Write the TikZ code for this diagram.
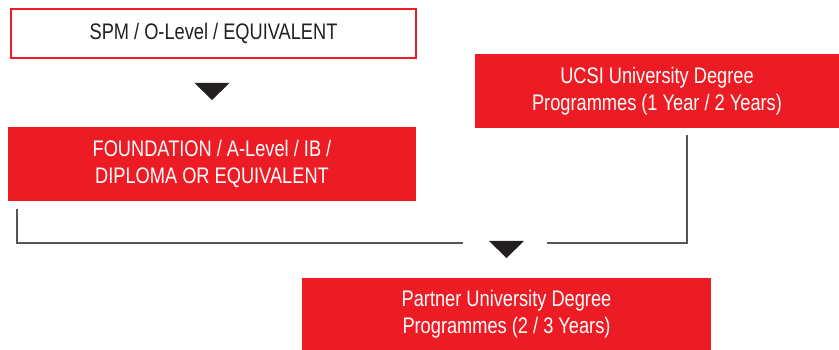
\documentclass[tikz,border=0pt]{standalone}
\usepackage{fontspec}
\setmainfont[FakeStretch=0.81]{Liberation Sans}
\usetikzlibrary{calc}
\definecolor{ucsired}{HTML}{ED1C24}
\definecolor{trait}{HTML}{555555}
\definecolor{encre}{HTML}{231F20}

\begin{document}
\begin{tikzpicture}[x=1pt,y=-1pt]
\tikzstyle{lien}=[trait,line width=1.5pt]
\tikzstyle{fleche}=[fill=encre]
\tikzset{niveau/.style={fill=ucsired,text=white,align=center,inner sep=0pt,
  font=\fontsize{22.5}{27}\selectfont,minimum height=#1},
niveau/.default={74pt}}
\useasboundingbox (0,0) rectangle (839,350);
\node[niveau=49pt,fill=white,draw=ucsired,line width=1.2pt,text=encre,minimum width=405pt] (spm) at (213.5,33.5) {SPM / O-Level / EQUIVALENT};
\node[niveau,minimum width=408pt] (found) at (212,164) {FOUNDATION / A-Level / IB /\\ DIPLOMA OR EQUIVALENT};
\node[niveau,minimum width=364pt] (ucsi) at (657,91) {UCSI University Degree\\Programmes (1 Year / 2 Years)};
\node[niveau=72pt,minimum width=409pt] (partner) at (506.5,314) {Partner University Degree\\Programmes (2 / 3 Years)};

\coordinate (tipa) at (212,100);
\coordinate (tipb) at (506.5,258);
\coordinate (gapl) at (463,243);
\coordinate (gapr) at (547,243);

\fill[fleche] (tipa) -- ++(-17.5,-17) -- ++(35,0) -- cycle;
\fill[fleche] (tipb) -- ++(-17.5,-17) -- ++(35,0) -- cycle;

\draw[lien] ($(found.south west)+(9,8)$) |- (gapl);
\draw[lien] ($(ucsi.south west)+(212,7)$) |- (gapr);

\end{tikzpicture}
\end{document}
